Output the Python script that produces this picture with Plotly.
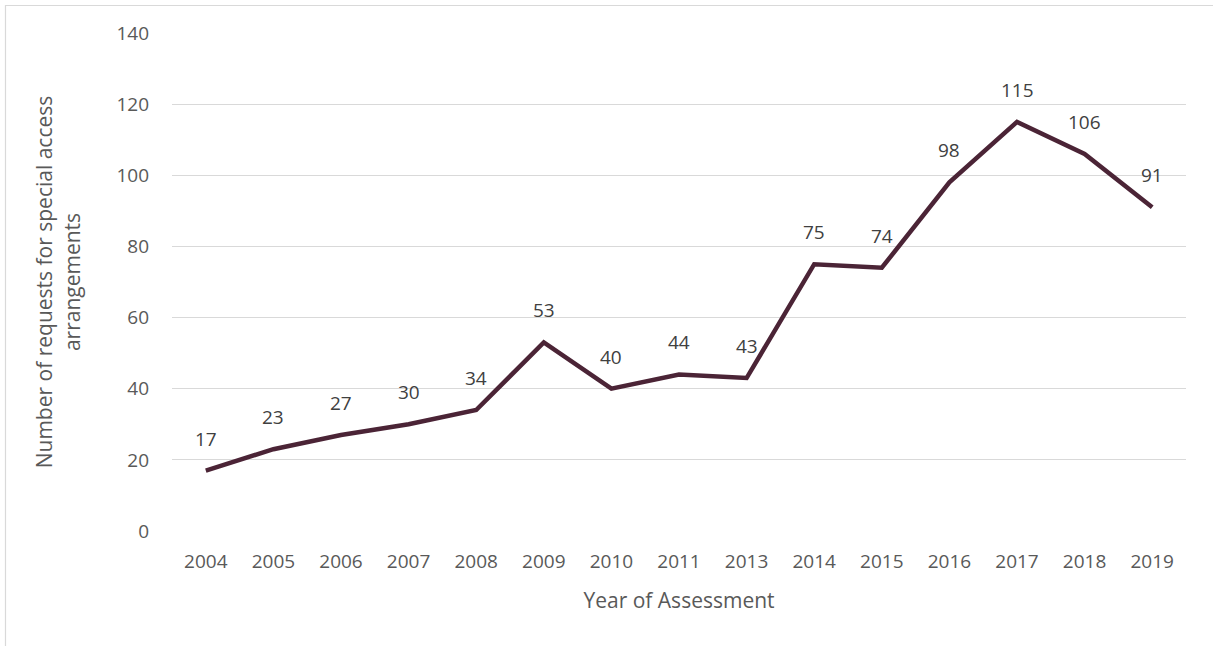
import plotly.graph_objects as go

years = ["2004", "2005", "2006", "2007", "2008", "2009", "2010", "2011",
         "2013", "2014", "2015", "2016", "2017", "2018", "2019"]
requests = [17, 23, 27, 30, 34, 53, 40, 44, 43, 75, 74, 98, 115, 106, 91]

y_ticks = [0, 20, 40, 60, 80, 100, 120, 140]

FONT = "Open Sans, Noto Sans, sans-serif"
GREY = "#595959"

fig = go.Figure()
fig.add_trace(go.Scatter(
    x=years, y=requests, mode="lines",
    line=dict(color="#4B2436", width=4.5),
    hoverinfo="x+y", showlegend=False,
))

for i, v in enumerate(requests):
    fig.add_annotation(x=i, y=v, xref="x", yref="y", text=str(v), showarrow=False,
                       yshift=32, font=dict(size=19, color="#404040", family=FONT))

W, H = 1213, 646
L, R, T, B = 172, 27, 33, 115
pw, ph = W - L - R, H - T - B
fig.add_shape(type="rect", xref="paper", yref="paper",
              x0=(5.5 - L) / pw, x1=(W + 20 - L) / pw,
              y0=-(H + 20 - T - ph) / ph, y1=1 + (T - 5.5) / ph,
              line=dict(color="#D9D9D9", width=1.2), fillcolor="rgba(0,0,0,0)")

fig.update_layout(
    width=W, height=H,
    margin=dict(l=L, r=R, t=T, b=B),
    plot_bgcolor="white", paper_bgcolor="white",
    font=dict(family=FONT, color=GREY),
    xaxis=dict(
        type="category", range=[-0.5, len(years) - 0.5],
        showgrid=False, showline=False, zeroline=False, ticks="",
        tickfont=dict(size=19, color=GREY), ticklabelstandoff=17,
        title=dict(text="Year of Assessment", font=dict(size=21, color=GREY), standoff=20),
    ),
    yaxis=dict(
        range=[0, 140], tickvals=y_ticks,
        showgrid=True, gridcolor="#D9D9D9", gridwidth=1.2,
        zeroline=False, showline=False, ticks="",
        tickfont=dict(size=19, color=GREY), ticklabelstandoff=22,
        title=dict(text="Number of requests for special access<br>arrangements",
                   font=dict(size=21, color=GREY), standoff=30),
    ),
)

fig.write_html("out.html", config={"displayModeBar": False},
               post_script="document.body.style.margin='0';document.body.style.overflow='hidden';")
